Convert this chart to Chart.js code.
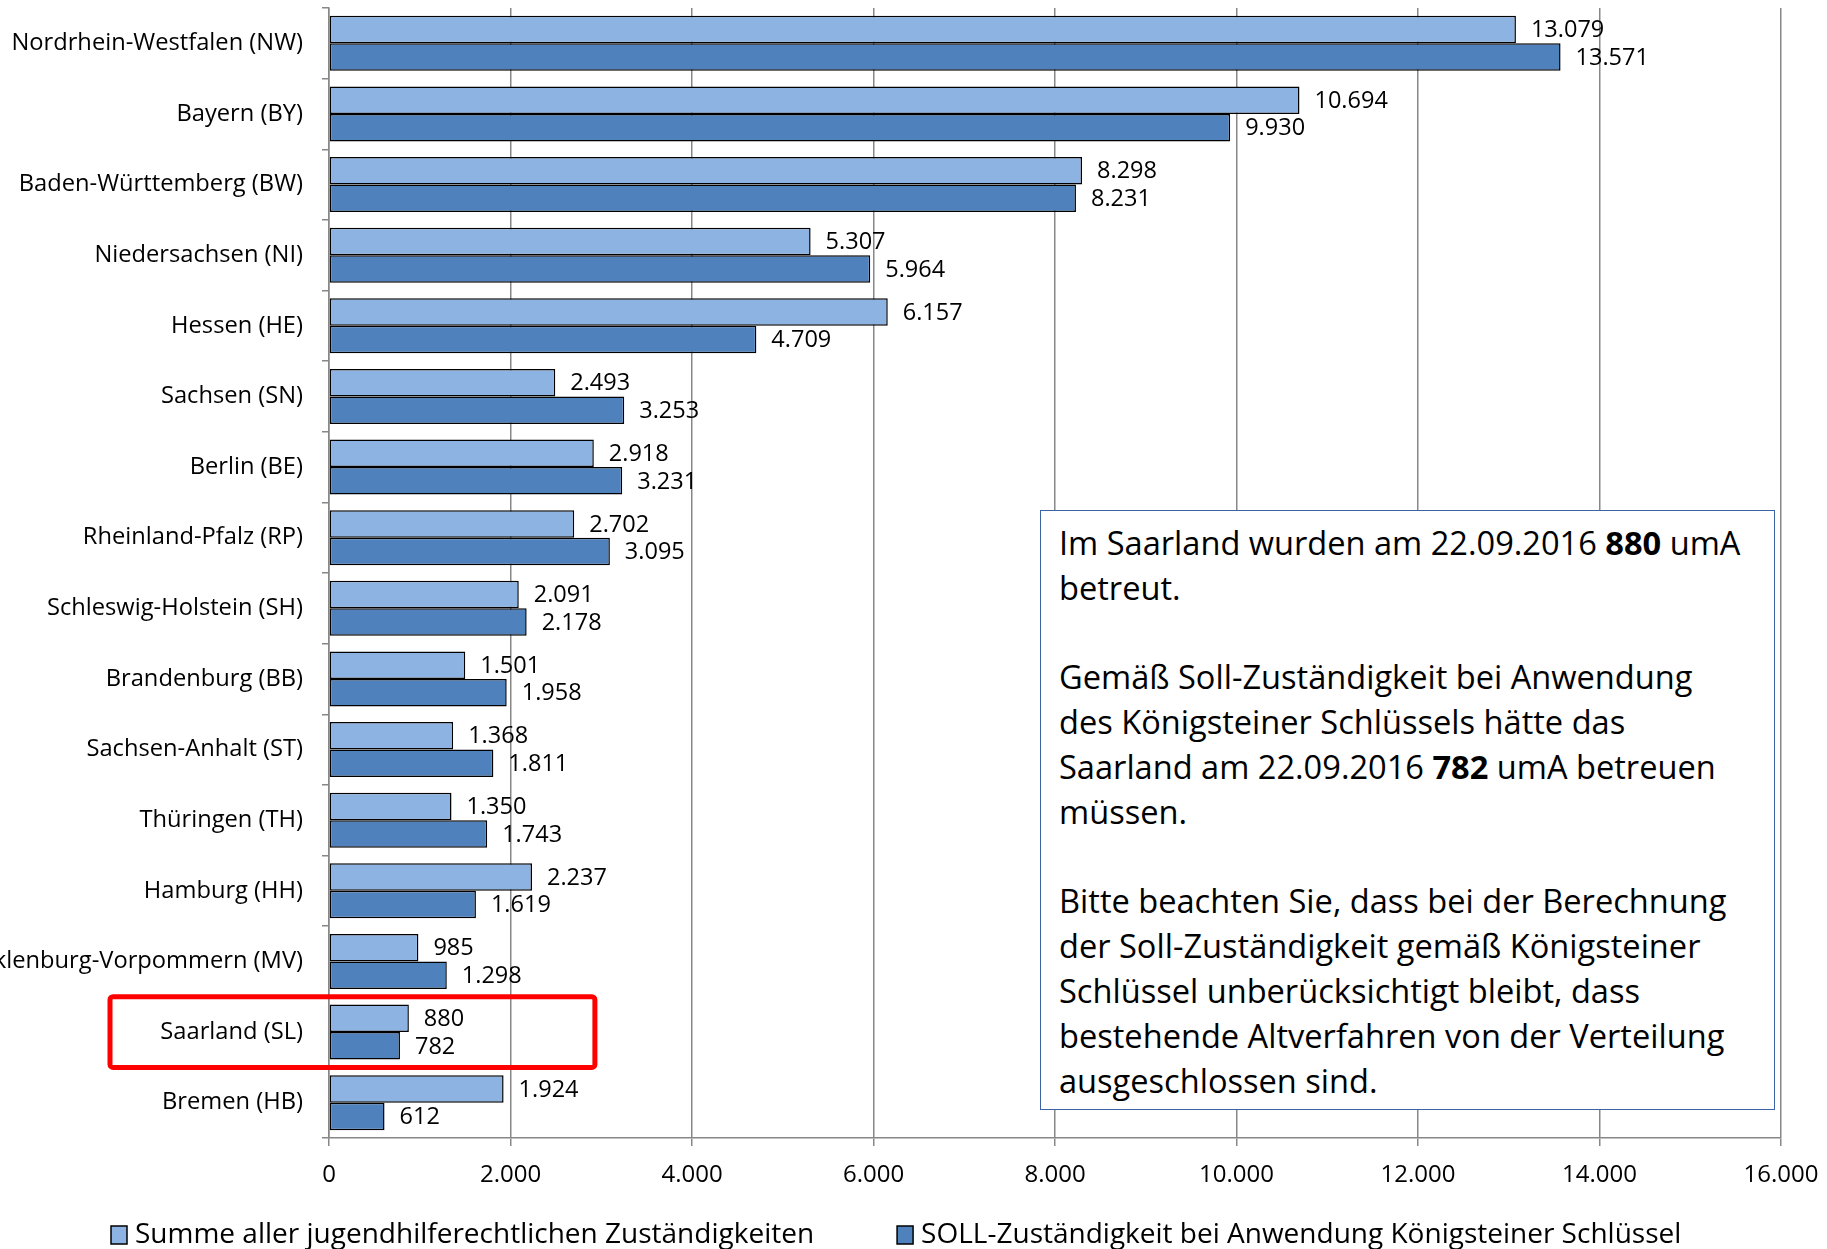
<!DOCTYPE html>
<html><head><meta charset="utf-8">
<script src="https://cdn.jsdelivr.net/npm/chart.js@4.4.1/dist/chart.umd.min.js"></script>
<style>
html,body{margin:0;padding:0;background:#fff;}
#wrap{position:relative;width:1827px;height:1249px;overflow:hidden;}
#note{position:absolute;left:1040px;top:510px;width:735px;height:600px;box-sizing:border-box;border:1.5px solid #3b63a6;background:#fff;font-family:'Open Sans',sans-serif;font-size:32.6px;line-height:44.8px;padding:10px 18px;color:#000;white-space:nowrap;}
#note b{font-weight:700;}
</style></head>
<body>
<div id="wrap">
<canvas id="c" width="1827" height="1249"></canvas>
<div id="note">Im Saarland wurden am 22.09.2016 <b>880</b> umA<br>betreut.<br><br>Gemäß Soll-Zuständigkeit bei Anwendung<br>des Königsteiner Schlüssels hätte das<br>Saarland am 22.09.2016 <b>782</b> umA betreuen<br>müssen.<br><br>Bitte beachten Sie, dass bei der Berechnung<br>der Soll-Zuständigkeit gemäß Königsteiner<br>Schlüssel unberücksichtigt bleibt, dass<br>bestehende Altverfahren von der Verteilung<br>ausgeschlossen sind.</div>
</div>
<script>
const categories = ['Nordrhein-Westfalen (NW)','Bayern (BY)','Baden-Württemberg (BW)','Niedersachsen (NI)','Hessen (HE)','Sachsen (SN)','Berlin (BE)','Rheinland-Pfalz (RP)','Schleswig-Holstein (SH)','Brandenburg (BB)','Sachsen-Anhalt (ST)','Thüringen (TH)','Hamburg (HH)','Mecklenburg-Vorpommern (MV)','Saarland (SL)','Bremen (HB)'];
const summeValues = [13079,10694,8298,5307,6157,2493,2918,2702,2091,1501,1368,1350,2237,985,880,1924];
const sollValues  = [13571,9930,8231,5964,4709,3253,3231,3095,2178,1958,1811,1743,1619,1298,782,612];
const seriesNames = ['Summe aller jugendhilferechtlichen Zuständigkeiten','SOLL-Zuständigkeit bei Anwendung Königsteiner Schlüssel'];
const xTickValues = [0,2000,4000,6000,8000,10000,12000,14000,16000];
const highlightCategory = 'Saarland (SL)';

const FONT = "'Open Sans'";
const fmt = n => String(n).replace(/\B(?=(\d{3})+(?!\d))/g, '.');
const COLORS = ['#8db3e2', '#4f81bd'];

const valueLabels = {
  id: 'valueLabels',
  afterDatasetsDraw(chart) {
    const ctx = chart.ctx;
    ctx.save();
    ctx.font = '23.5px ' + FONT;
    ctx.fillStyle = '#000';
    ctx.textBaseline = 'middle';
    ctx.textAlign = 'left';
    chart.data.datasets.forEach((ds, i) => {
      chart.getDatasetMeta(i).data.forEach((bar, j) => {
        ctx.fillText(fmt(ds.data[j]), bar.x + 15, bar.y + 1);
      });
    });
    ctx.restore();
  }
};

const highlightBox = {
  id: 'highlightBox',
  afterDraw(chart) {
    const y = chart.scales.y, x = chart.scales.x;
    const idx = categories.indexOf(highlightCategory);
    const step = y.getPixelForValue(1) - y.getPixelForValue(0);
    const c = y.getPixelForValue(idx);
    const ctx = chart.ctx;
    ctx.save();
    ctx.strokeStyle = '#ff0000';
    ctx.lineWidth = 5;
    ctx.beginPath();
    ctx.roundRect(110, c - step / 2, x.getPixelForValue(2930) - 110, step, 3);
    ctx.stroke();
    ctx.restore();
  }
};

const customLegend = {
  id: 'customLegend',
  afterDraw(chart) {
    const ctx = chart.ctx;
    ctx.save();
    ctx.font = '28px ' + FONT;
    ctx.textBaseline = 'middle';
    ctx.textAlign = 'left';
    const yc = 1235;
    let xpos = 111;
    chart.data.datasets.forEach((ds, i) => {
      ctx.fillStyle = ds.backgroundColor;
      ctx.fillRect(xpos, yc - 9, 16, 18);
      ctx.strokeStyle = '#000';
      ctx.lineWidth = 1.5;
      ctx.strokeRect(xpos, yc - 9, 16, 18);
      ctx.fillStyle = '#000';
      ctx.fillText(ds.label, xpos + 24, yc);
      xpos += 24 + ctx.measureText(ds.label).width + 83;
    });
    ctx.restore();
  }
};

function draw() {
  new Chart(document.getElementById('c'), {
    type: 'bar',
    data: {
      labels: categories,
      datasets: [
        { label: seriesNames[0], data: summeValues, backgroundColor: COLORS[0], borderColor: '#000', borderWidth: 1.5, borderSkipped: false },
        { label: seriesNames[1], data: sollValues, backgroundColor: COLORS[1], borderColor: '#000', borderWidth: 1.5, borderSkipped: false }
      ]
    },
    options: {
      indexAxis: 'y',
      responsive: false,
      animation: false,
      events: [],
      layout: { padding: { top: 8, right: 46, bottom: 0, left: 0 } },
      datasets: { bar: { categoryPercentage: 0.78, barPercentage: 1.0 } },
      plugins: { legend: { display: false }, tooltip: { enabled: false } },
      scales: {
        x: {
          min: 0, max: 16000,
          afterBuildTicks(scale) { scale.ticks = xTickValues.map(v => ({ value: v })); },
          afterFit(scale) { scale.height = 111; scale.paddingLeft = 0; scale.paddingRight = 0; },
          grid: { color: '#878787', lineWidth: 1.5, tickLength: 8 },
          border: { color: '#878787', width: 1.5 },
          ticks: { color: '#000', font: { family: FONT, size: 24 }, padding: 14.5, callback: v => fmt(v) }
        },
        y: {
          afterFit(scale) { scale.width = 329; scale.paddingTop = 0; scale.paddingBottom = 0; },
          grid: { drawOnChartArea: false, color: '#878787', lineWidth: 1.5, tickLength: 7 },
          border: { color: '#878787', width: 1.5 },
          ticks: { color: '#000', font: { family: FONT, size: 23.7 }, padding: 19, autoSkip: false }
        }
      }
    },
    plugins: [valueLabels, highlightBox, customLegend]
  });
}
Promise.all([document.fonts.load("22px 'Open Sans'"), document.fonts.load("bold 30px 'Open Sans'")]).then(draw, draw);
</script>
</body></html>
